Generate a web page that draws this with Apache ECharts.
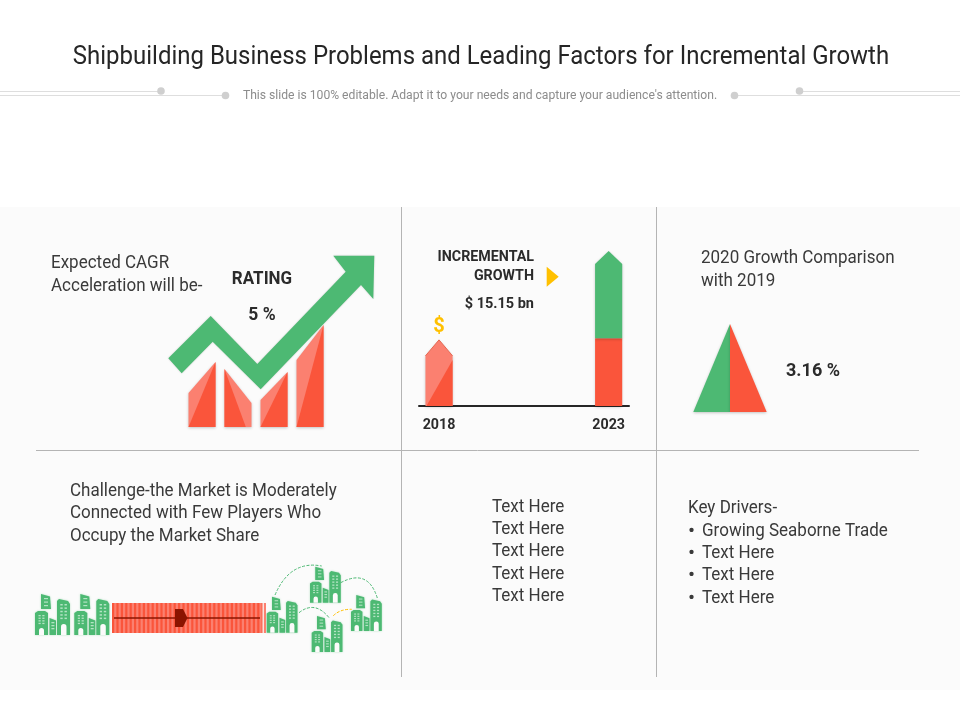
<!DOCTYPE html>
<html><head><meta charset="utf-8">
<style>html,body{margin:0;padding:0;background:#fff}#c{width:960px;height:720px}</style>
<script src="https://cdn.jsdelivr.net/npm/echarts@6/dist/echarts.min.js"></script>
</head><body><div id="c"></div>
<script>
const titleText = 'Shipbuilding Business Problems and Leading Factors for Incremental Growth';
const subtitleText = "This slide is 100% editable. Adapt it to your needs and capture your audience's attention.";
const ratingCategories = ['A','B','C','D'];
const ratingLeft = [34,58,27,67];
const ratingRight = [65,24,55,102];
const years = [2018,2023];
const baseBn = [11.5,11.8];
const growthBn = [0,15.15];
const peakPx = [16,13];
const comparisonLabels = ['2019','2020'];
const comparisonValues = [3.16,3.16];

const GREEN='#4DB973', RED='#FA553B', LIGHT='#FB8070', GOLD='#FFC000';
const FONT='Roboto';
const ink='#3a3a3a', strong='#2b2b2b';
const shadow={shadowBlur:3,shadowColor:'rgba(0,0,0,0.22)',shadowOffsetY:1};
const BODY=0.972;

function txt(text,x,y,size,opt){opt=opt||{};return {type:'text',z:20,x:x,y:y,scaleX:opt.sx||1,style:{text:text,x:0,y:0,fontFamily:FONT,fontSize:size,fontWeight:opt.bold?'bold':'normal',fill:opt.fill||ink,align:opt.align||'left',verticalAlign:'middle'}};}
function body(text,x,y){return txt(text,x,y+2,17.5,{sx:BODY});}
function bullet(x,y){return txt('•',x,y+2,21,{});}
function line(x1,y1,x2,y2,color,w,z){return {type:'line',z:z||1,shape:{x1:x1,y1:y1,x2:x2,y2:y2},style:{stroke:color,lineWidth:w||1}};}
function dot(x,y){return {type:'circle',z:2,shape:{cx:x,cy:y,r:3.8},style:{fill:'#cfcfcf'}};}
function poly(points,fill,z,extra){return {type:'polygon',z:z||5,shape:{points:points},style:Object.assign({fill:fill},extra||{})};}

function city(ox,oy,s){
  const ch=[];
  const b=(pts)=>ch.push({type:'polygon',shape:{points:pts},style:{fill:GREEN,shadowBlur:2,shadowColor:'rgba(77,185,115,0.45)'}});
  const w=(x,y,ww,h)=>ch.push({type:'rect',shape:{x:x,y:y,width:ww,height:h},style:{fill:'#b4e3c4'}});
  b([[6,0],[15,2.5],[16,15],[6,15]]);
  b([[0,19],[3,17],[10,17],[13,19],[13,41],[0,41]]);
  b([[14.5,24],[21,26.5],[21,41],[14.5,41]]);
  b([[22,7],[24,5],[33,7],[35,10],[35,41],[22,41]]);
  for(let r=0;r<3;r++){w(9,4+r*3.5,4,1.2);}
  for(let r=0;r<4;r++){w(3.5,21+r*2.6,2.2,1.3);w(7.3,21+r*2.6,2.2,1.3);}
  for(let r=0;r<3;r++){w(16.4,28+r*3,3,1.3);}
  for(let r=0;r<5;r++){w(25.3,10+r*3.4,2.4,1.5);w(29.5,10+r*3.4,2.4,1.5);}
  ch.push({type:'rect',shape:{x:4,y:34,width:5,height:7,r:[2.5,2.5,0,0]},style:{fill:'#fbfbfb'}});
  ch.push({type:'rect',shape:{x:26,y:30,width:5.5,height:11,r:[2.7,2.7,0,0]},style:{fill:'#fbfbfb'}});
  return {type:'group',x:ox,y:oy,scaleX:s,scaleY:s,z:6,children:ch};
}
function arc(x1,y1,cx,cy,x2,y2,color){return {type:'bezierCurve',z:6,shape:{x1:x1,y1:y1,x2:x2,y2:y2,cpx1:cx,cpy1:cy},style:{stroke:color,lineWidth:1,lineDash:[3,1.5],fill:null}};}

const stripes=[];
for(let x=112;x<262;x+=4.4){stripes.push({type:'rect',z:4,shape:{x:x+2.2,y:603,width:2.2,height:30},style:{fill:'#FB8070'}});}

const graphics=[
  {type:'rect',z:0,shape:{x:0,y:207,width:960,height:483},style:{fill:'#fbfbfb'}},
  line(0,91.5,160,91.5,'#dedede'),line(0,95.5,225,95.5,'#dedede'),
  line(735,95.5,960,95.5,'#dedede'),line(799,91.5,960,91.5,'#dedede'),
  dot(161,91),dot(225.5,95.5),dot(734.5,95.5),dot(799.5,91),
  line(36,450.5,919,450.5,'#b4b4b4'),line(401.5,207,401.5,677,'#b4b4b4'),line(656.5,207,656.5,677,'#b4b4b4'),
  txt(titleText,481,58,25,{align:'center',fill:'#262626',sx:0.959}),
  txt(subtitleText,480,96,12.15,{align:'center',fill:'#8c8c8c'}),
  body('Expected CAGR',51,262),body('Acceleration will be-',51,285),
  txt('RATING',262,280,17.5,{bold:true,align:'center',fill:strong,sx:0.97}),
  txt('5 %',262,316,17.5,{bold:true,align:'center',fill:strong}),
  poly([[168.3,358.3],[210.7,316],[257.3,364],[345.7,271.7],[333.3,255.7],[374.3,255.7],[373.3,299],[361,285],[260.7,389.3],[212.7,341.7],[181.7,373.3]],GREEN,10,{shadowBlur:2,shadowColor:'rgba(0,0,0,0.18)'}),
  txt('INCREMENTAL',534,257,14.25,{bold:true,align:'right',fill:strong}),
  txt('GROWTH',534,276,14.25,{bold:true,align:'right',fill:strong}),
  txt('$ 15.15 bn',534,304.5,14.5,{bold:true,align:'right',fill:strong}),
  poly([[546.7,266.7],[558.7,276.7],[546.7,286.7]],GOLD),
  txt('$',439,327,20,{bold:true,align:'center',fill:GOLD}),
  body('2020 Growth Comparison',701,257),body('with 2019',701,280),
  txt('3.16 %',786,371,18,{bold:true,fill:strong}),
  body('Challenge-the Market is Moderately',70,490),
  body('Connected with Few Players Who',70,512),
  body('Occupy the Market Share',70,535),
  body('Text Here',492,506),body('Text Here',492,528),body('Text Here',492,550),body('Text Here',492,573),body('Text Here',492,595),
  body('Key Drivers-',688,507),
  bullet(688,530),body('Growing Seaborne Trade',702,530),
  bullet(688,552),body('Text Here',702,552),
  bullet(688,574),body('Text Here',702,574),
  bullet(688,597),body('Text Here',702,597),
  {type:'rect',z:3,shape:{x:112,y:603,width:150.5,height:30},style:{fill:'#FA553B'}},
  ...stripes,
  line(114,618,260,618,'#8B1400',1.6,6),
  poly([[175,609],[183,609],[187.5,618],[183,627],[175,627]],'#8B1400',6),
  city(35,594,1),city(74.3,594,1),
  city(266.7,596.7,0.88),city(310,566.7,0.88),city(351,595,0.88),city(311.7,616,0.88),
  arc(275,595,290,560,321.7,566,GREEN),arc(340.7,582.7,368,568,377.3,598,GREEN),arc(299,612.7,315,600,329.3,618,GREEN),arc(333.3,615.7,340,609,351.7,609.3,GOLD)
];

function renderRating(params,api){
  const i=api.value(0);
  const l=api.value(1), r=api.value(2);
  const bw=api.size([1,0])[0]*0.75;
  const base=api.coord([i,0]);
  const xl=base[0]-bw/2, xr=base[0]+bw/2, y0=base[1];
  const yl=api.coord([i,l])[1], yr=api.coord([i,r])[1];
  const dark=l<r?[[xl,y0],[xr,yr],[xr,y0]]:[[xl,yl],[xl,y0],[xl+bw*0.79,y0]];
  return {type:'group',children:[
    {type:'polygon',shape:{points:[[xl,y0],[xl,yl],[xr,yr],[xr,y0]]},style:Object.assign({fill:LIGHT},shadow)},
    {type:'polygon',shape:{points:dark},style:{fill:RED}}
  ]};
}
function renderGrowth(params,api){
  const yr=api.value(0), b=api.value(1), g=api.value(2);
  const idx=params.dataIndex;
  const bw=api.size([1,0])[0]*0.8;
  const p0=api.coord([yr,0]), xl=p0[0]-bw/2, xr=p0[0]+bw/2, xc=p0[0], y0=p0[1];
  const yb=api.coord([yr,b])[1], yt=api.coord([yr,b+g])[1], pk=peakPx[idx];
  if(g===0){
    return {type:'group',children:[
      {type:'polygon',shape:{points:[[xl,y0],[xl,yt+pk],[xc,yt],[xr,yt+pk],[xr,y0]]},style:Object.assign({fill:LIGHT},shadow)},
      {type:'polygon',shape:{points:[[xl+1,y0],[xr,yt+pk+4],[xr,y0]]},style:{fill:RED}},
      {type:'polyline',shape:{points:[[xl,yt+pk],[xc,yt],[xr,yt+pk]]},style:{stroke:'#e8654f',lineWidth:1,fill:null}}
    ]};
  }
  return {type:'group',children:[
    {type:'polygon',shape:{points:[[xl,y0],[xl,yb],[xr,yb],[xr,y0]]},style:Object.assign({fill:RED},shadow)},
    {type:'polygon',shape:{points:[[xl,yb],[xl,yt+pk],[xc,yt],[xr,yt+pk],[xr,yb]]},style:Object.assign({fill:GREEN},shadow)}
  ]};
}
function renderTriangle(params,api){
  const i=api.value(0), v=api.value(1);
  const half=api.size([1,0])[0];
  const top=api.coord([i,v])[1], y0=api.coord([i,0])[1];
  const c=api.coord([0,0])[0]+half/2;
  const pts=i===0?[[c,top],[c-half,y0],[c,y0]]:[[c,top],[c+half,y0],[c,y0]];
  return {type:'polygon',shape:{points:pts},style:Object.assign({fill:i===0?GREEN:RED},shadow)};
}

const chart=echarts.init(document.getElementById('c'),null,{width:960,height:720,renderer:'canvas'});
chart.setOption({
  animation:false,backgroundColor:'#ffffff',
  graphic:{elements:graphics},
  grid:[
    {left:184,width:144,top:317,height:110},
    {left:419,width:210,top:233.5,height:172.5},
    {left:693.3,width:73.4,top:324,height:88}
  ],
  xAxis:[
    {gridIndex:0,type:'category',data:ratingCategories,show:false},
    {gridIndex:1,type:'value',min:2017.41,max:2023.6,splitLine:{show:false},axisTick:{show:false},
     axisLine:{show:true,onZero:false,lineStyle:{color:'#262626',width:2}},
     axisLabel:{customValues:years,formatter:v=>String(v),margin:12,fontFamily:FONT,fontSize:14.25,fontWeight:'bold',color:strong}},
    {gridIndex:2,type:'category',data:comparisonLabels,show:false}
  ],
  yAxis:[
    {gridIndex:0,type:'value',min:0,max:110,show:false},
    {gridIndex:1,type:'value',min:0,max:30,show:false},
    {gridIndex:2,type:'value',min:0,max:3.16,show:false}
  ],
  series:[
    {type:'custom',xAxisIndex:0,yAxisIndex:0,renderItem:renderRating,clip:false,z:3,
     data:ratingCategories.map((c,i)=>[i,ratingLeft[i],ratingRight[i]]),encode:{x:0,y:[1,2]}},
    {type:'custom',xAxisIndex:1,yAxisIndex:1,renderItem:renderGrowth,clip:false,z:3,
     data:years.map((y,i)=>[y,baseBn[i],growthBn[i]]),encode:{x:0,y:[1,2]}},
    {type:'custom',xAxisIndex:2,yAxisIndex:2,renderItem:renderTriangle,clip:false,z:3,
     data:comparisonLabels.map((c,i)=>[i,comparisonValues[i]]),encode:{x:0,y:1}}
  ]
});
</script></body></html>
